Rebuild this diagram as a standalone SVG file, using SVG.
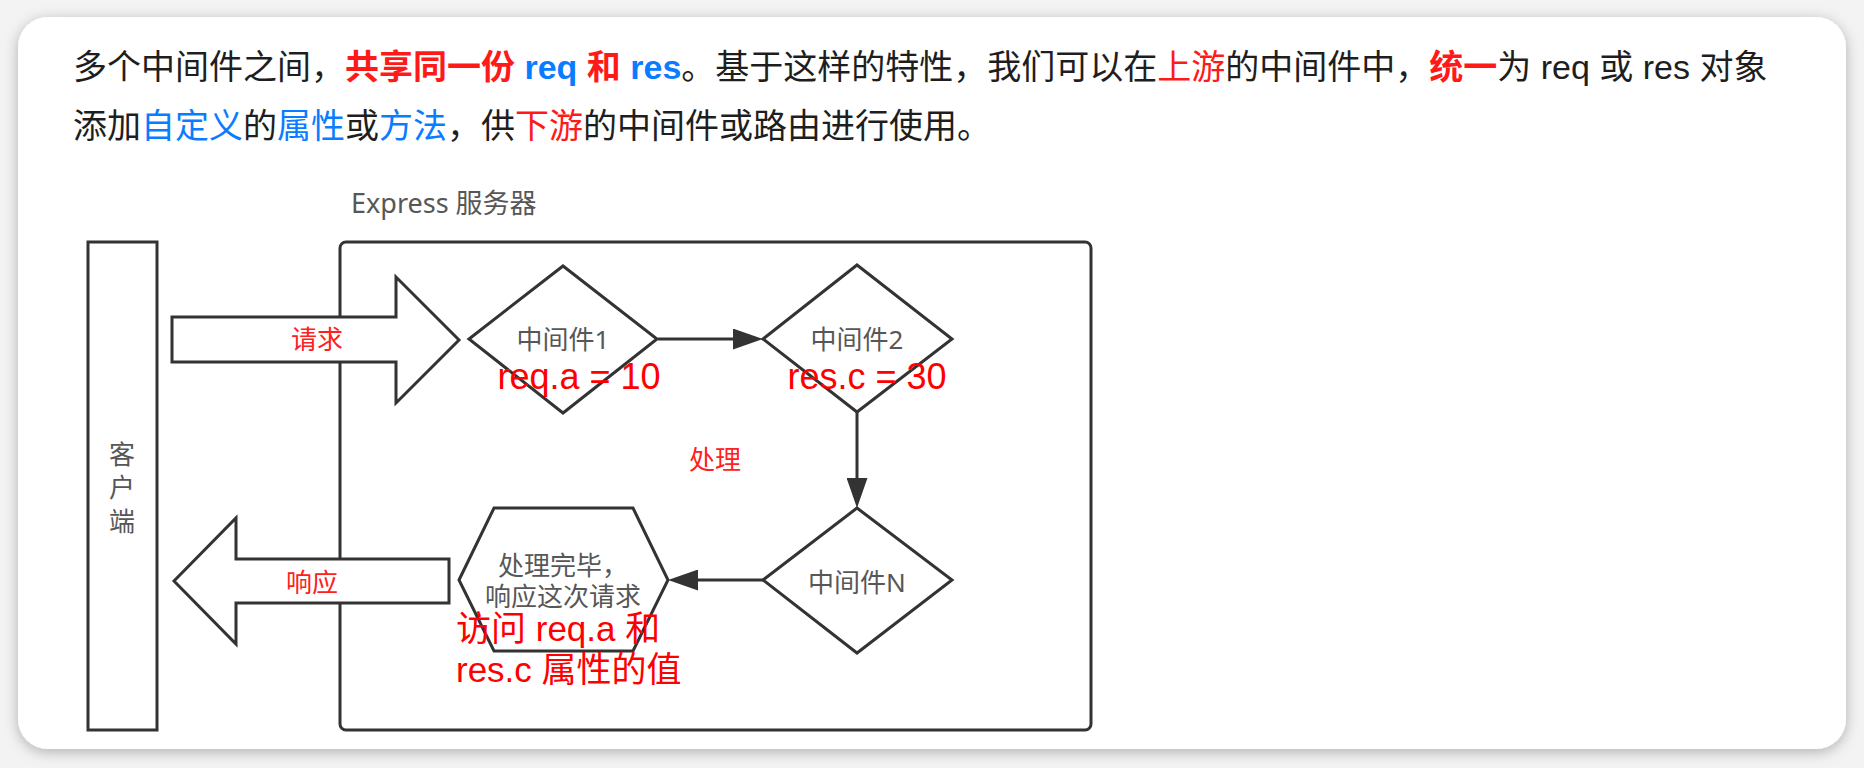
<svg xmlns="http://www.w3.org/2000/svg" width="1864" height="768" viewBox="0 0 1864 768">
<defs>
<style>
.p{font-family:"Liberation Sans","Noto Sans CJK SC",sans-serif;font-size:34px;fill:#1e1e1e}
.r{fill:#ff1a1a}
.b{fill:#0a7cff}
.bold{font-weight:bold}
.lbl{font-family:"Noto Sans","Noto Sans CJK SC",sans-serif;font-size:26px;fill:#575757}
.red{font-family:"Noto Sans","Noto Sans CJK SC",sans-serif;font-size:26px;fill:#ff2020}
.big{font-family:"Liberation Sans","Noto Sans CJK SC",sans-serif;font-size:35px;fill:#ff0000}
.shape{fill:#fff;stroke:#333;stroke-width:3;stroke-linejoin:miter}
.conn{fill:none;stroke:#333;stroke-width:3}
</style>
<filter id="sh" x="-5%" y="-10%" width="110%" height="120%">
<feDropShadow dx="0" dy="3" stdDeviation="7" flood-color="#000" flood-opacity="0.28"/>
</filter>
<marker id="ah" viewBox="0 0 10 7" refX="6.7" refY="3.5" markerWidth="10" markerHeight="7" markerUnits="strokeWidth" orient="auto">
<path d="M0,0 L10,3.5 L0,7 z" fill="#333"/>
</marker>
</defs>
<rect x="0" y="0" width="1864" height="768" fill="#f3f3f3"/>
<rect x="18" y="17" width="1828" height="732" rx="30" ry="30" fill="#fff" filter="url(#sh)"/>

<g id="intro">
<text class="p" x="73" y="79">多个中间件之间，<tspan class="r bold">共享同一份</tspan><tspan class="b bold"> req </tspan><tspan class="r bold">和</tspan><tspan class="b bold"> res</tspan>。基于这样的特性，我们可以在<tspan class="r">上游</tspan>的中间件中，<tspan class="r bold">统一</tspan>为 req 或 res 对象</text>
<text class="p" x="73" y="138">添加<tspan class="b">自定义</tspan>的<tspan class="b">属性</tspan>或<tspan class="b">方法</tspan>，供<tspan class="r">下游</tspan>的中间件或路由进行使用。</text>
</g>

<g id="server">
<text class="lbl" x="351" y="213" style="font-size:27px">Express 服务器</text>
<rect class="shape" x="340" y="242" width="751" height="488" rx="6" ry="6"/>
</g>

<g id="client">
<rect class="shape" x="88" y="242" width="69" height="488"/>
<text class="lbl" x="122" y="464" text-anchor="middle">客</text>
<text class="lbl" x="122" y="497" text-anchor="middle">户</text>
<text class="lbl" x="122" y="531" text-anchor="middle">端</text>
</g>

<g id="request">
<polygon class="shape" points="172,317 396,317 396,277 459,340 396,403 396,362 172,362"/>
<text class="red" x="317" y="349" text-anchor="middle">请求</text>
</g>

<g id="response">
<polygon class="shape" points="449,559 236,559 236,518 174,581 236,644 236,603 449,603"/>
<text class="red" x="312" y="592" text-anchor="middle">响应</text>
</g>

<g id="mw1">
<polygon class="shape" points="469,339 563,266 657,339 563,413"/>
<text class="lbl" x="563" y="349" text-anchor="middle">中间件1</text>
<text class="big" x="579" y="389" text-anchor="middle" style="font-size:36px">req.a = 10</text>
</g>

<g id="mw2">
<polygon class="shape" points="763,339 857,265 952,339 857,412"/>
<text class="lbl" x="857" y="349" text-anchor="middle">中间件2</text>
<text class="big" x="867" y="389" text-anchor="middle" style="font-size:36px">res.c = 30</text>
</g>

<g id="mwN">
<polygon class="shape" points="763,580 857,508 952,580 857,653"/>
<text class="lbl" x="857" y="592" text-anchor="middle">中间件N</text>
</g>

<g id="done">
<polygon class="shape" points="459,580 494,508 633,508 668,580 633,651 494,651"/>
<text class="lbl" x="563" y="575" text-anchor="middle">处理完毕，</text>
<text class="lbl" x="563" y="606" text-anchor="middle">响应这次请求</text>
<text class="big" x="456" y="641">访问 req.a 和</text>
<text class="big" x="456" y="682">res.c 属性的值</text>
</g>

<g id="process">
<text class="red" x="715" y="469" text-anchor="middle">处理</text>
</g>

<g id="connectors">
<line class="conn" x1="658" y1="339" x2="753" y2="339" marker-end="url(#ah)"/>
<line class="conn" x1="857" y1="412" x2="857" y2="498" marker-end="url(#ah)"/>
<line class="conn" x1="763" y1="580" x2="678" y2="580" marker-end="url(#ah)"/>
</g>
</svg>
